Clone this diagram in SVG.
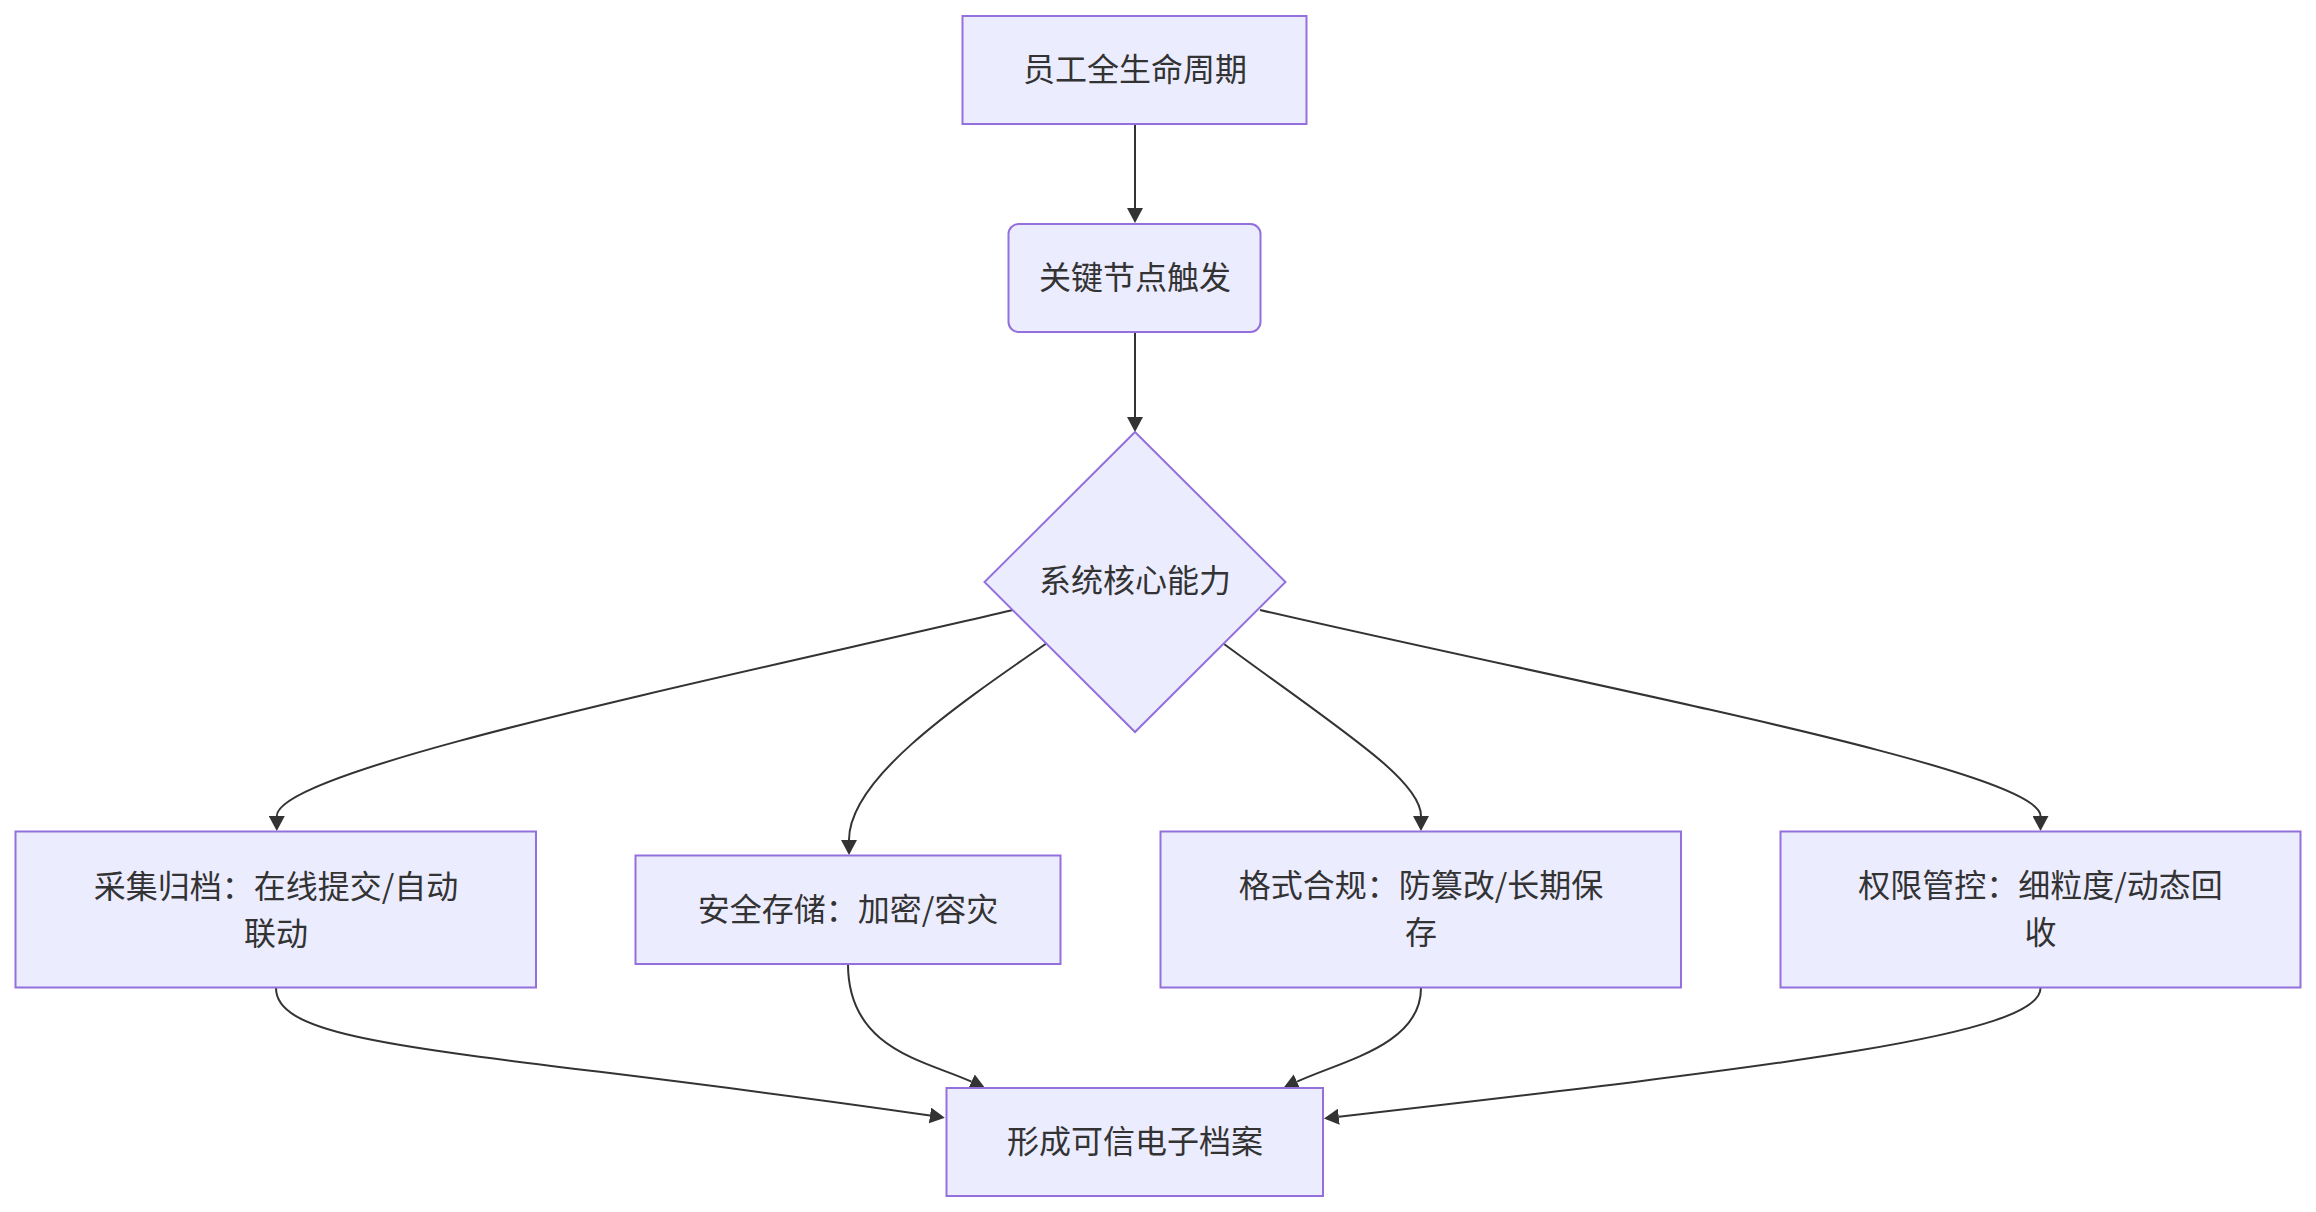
<svg xmlns="http://www.w3.org/2000/svg" width="2316" height="1212" viewBox="0 0 2316 1212">
<style>
.node{fill:#ECECFF;stroke:#9370DB;stroke-width:2}
.lbl{font-family:"Noto Sans CJK SC","Noto Sans",sans-serif;font-size:32px;fill:#333333;text-anchor:middle}
.edge{fill:none;stroke:#333333;stroke-width:2}
</style>
<defs>
<marker id="arrow" viewBox="0 0 10 10" refX="0" refY="5" markerUnits="userSpaceOnUse" markerWidth="15" markerHeight="16" orient="auto" preserveAspectRatio="none">
<path d="M0,0 L10,5 L0,10 z" fill="#333333"/>
</marker>
</defs>
<rect width="2316" height="1212" fill="#ffffff"/>
<g id="edges">
<path class="edge" marker-end="url(#arrow)" d="M1135,124 L1135,208"/>
<path class="edge" marker-end="url(#arrow)" d="M1135,332 L1135,417"/>
<path class="edge" marker-end="url(#arrow)" d="M1013,610 C700,683 276.8,770 276.8,816"/>
<path class="edge" marker-end="url(#arrow)" d="M1047,643 C950,710 849,780 849,840"/>
<path class="edge" marker-end="url(#arrow)" d="M1224,644 C1340,729.5 1421,780 1421,816"/>
<path class="edge" marker-end="url(#arrow)" d="M1260,610 C1592,687 2040.5,770 2040.5,816"/>
<path class="edge" marker-end="url(#arrow)" d="M276,988 C276,1050 480,1049.8 930,1115.5"/>
<path class="edge" marker-end="url(#arrow)" d="M848,964 C848,1050 926,1060.8 971.4,1081.7"/>
<path class="edge" marker-end="url(#arrow)" d="M1421,988 C1421,1045 1342.4,1060.8 1297,1081.7"/>
<path class="edge" marker-end="url(#arrow)" d="M2040.5,988 C2040.5,1035 1788.8,1065 1338.8,1116.7"/>
</g>
<g id="node-A">
<rect class="node" x="962.5" y="16" width="344" height="108"/>
<text class="lbl" x="1135" y="81">员工全生命周期</text>
</g>
<g id="node-B">
<rect class="node" x="1008.5" y="224" width="252" height="108" rx="10" ry="10"/>
<text class="lbl" x="1135" y="289">关键节点触发</text>
</g>
<g id="node-C">
<polygon class="node" points="1135,432 1285.5,582 1135,732 984.5,582"/>
<text class="lbl" x="1135" y="592">系统核心能力</text>
</g>
<g id="node-D1">
<rect class="node" x="15.5" y="831.5" width="520.5" height="156"/>
<text class="lbl" x="276" y="897.5">采集归档：在线提交/自动</text>
<text class="lbl" x="276" y="945">联动</text>
</g>
<g id="node-D2">
<rect class="node" x="635.5" y="855.5" width="425" height="108.5"/>
<text class="lbl" x="848" y="921">安全存储：加密/容灾</text>
</g>
<g id="node-D3">
<rect class="node" x="1160.5" y="831.5" width="520.5" height="156"/>
<text class="lbl" x="1421" y="897">格式合规：防篡改/长期保</text>
<text class="lbl" x="1421" y="944">存</text>
</g>
<g id="node-D4">
<rect class="node" x="1780.5" y="831.5" width="520" height="156"/>
<text class="lbl" x="2040.5" y="897">权限管控：细粒度/动态回</text>
<text class="lbl" x="2040.5" y="944">收</text>
</g>
<g id="node-E">
<rect class="node" x="946.5" y="1088" width="376.5" height="108"/>
<text class="lbl" x="1135" y="1152.5">形成可信电子档案</text>
</g>
</svg>
